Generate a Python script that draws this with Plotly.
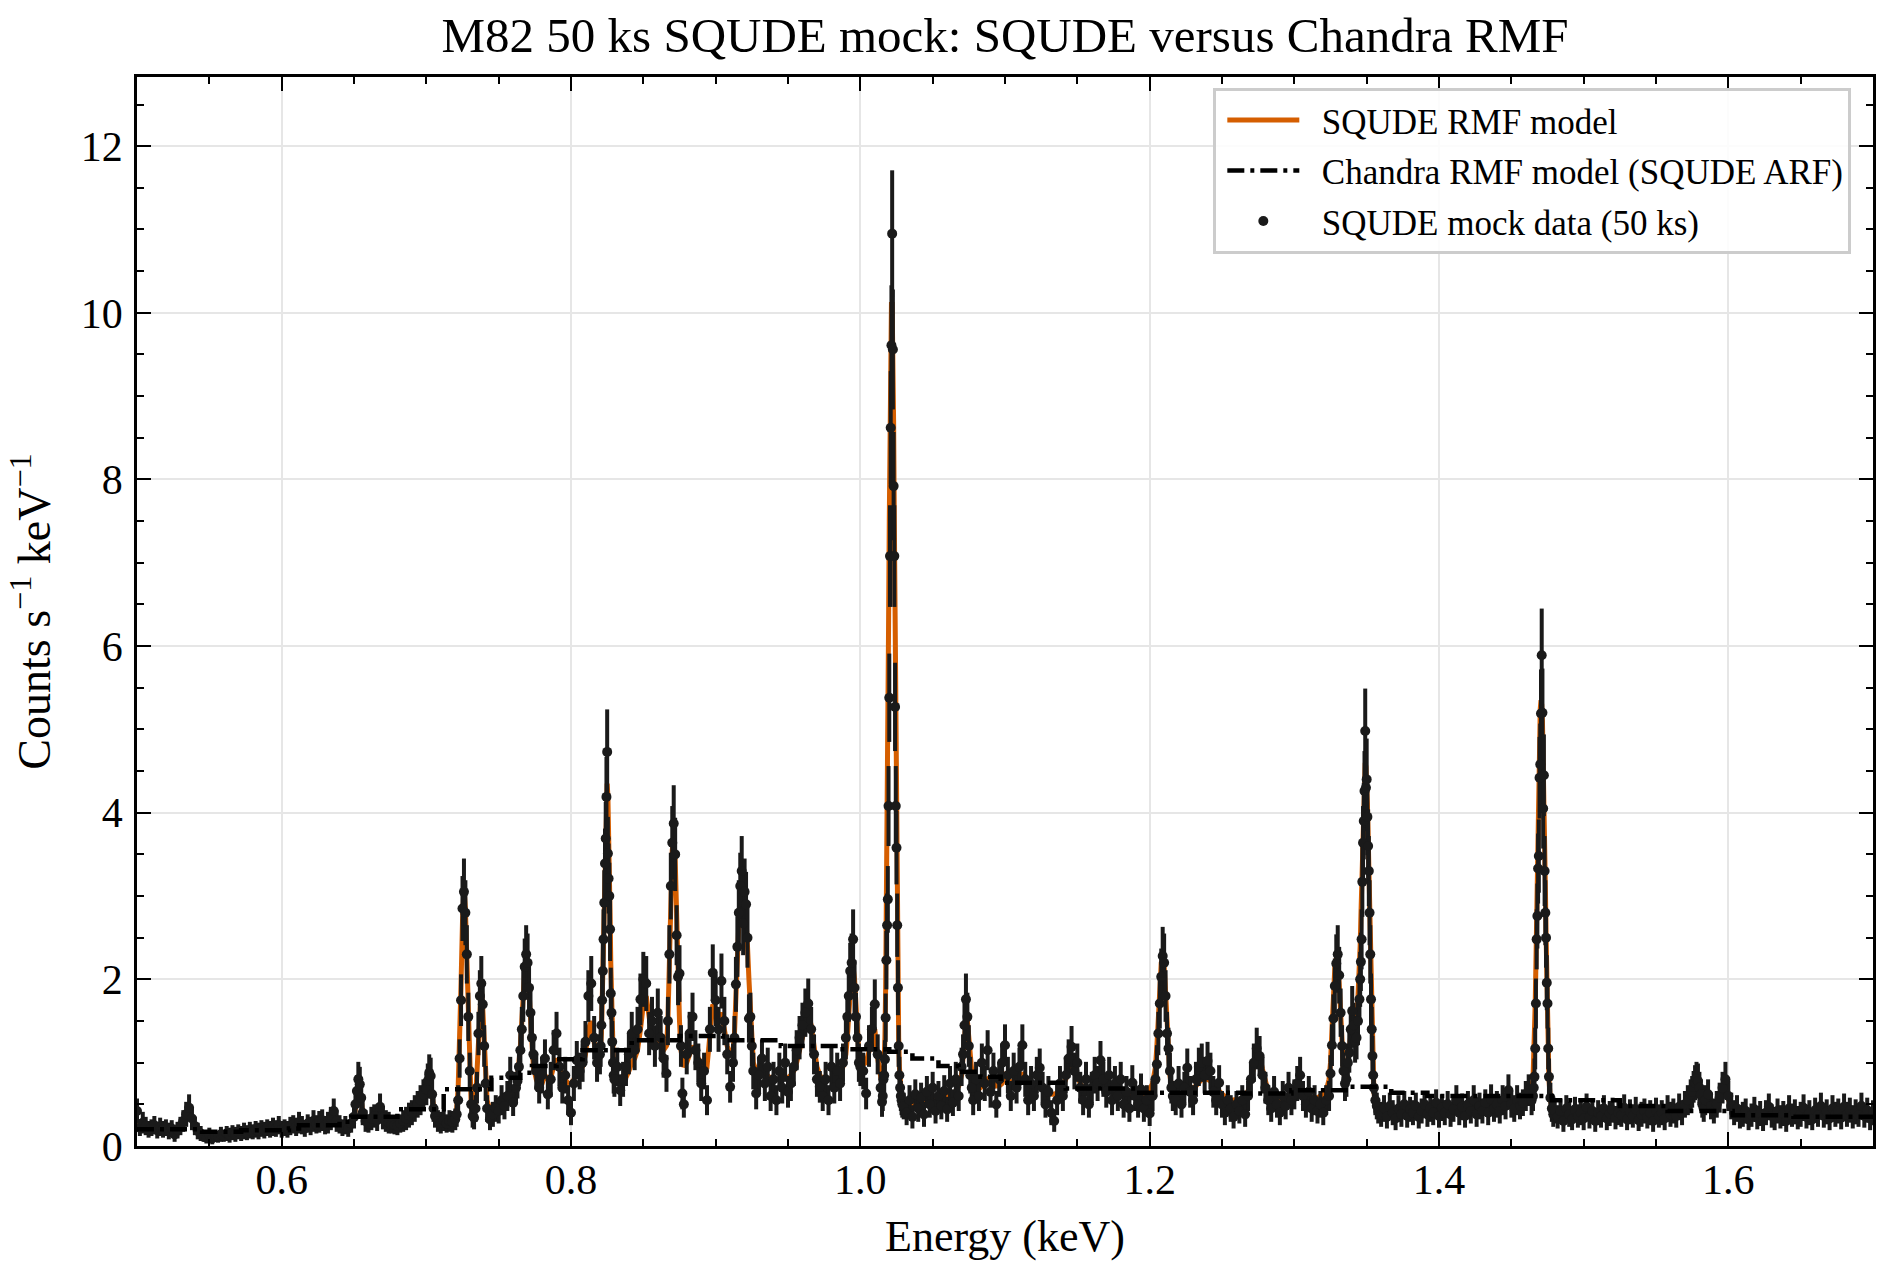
import plotly.graph_objects as go

# ---------------- data (energies in eV, rates in counts s^-1 keV^-1) ----------------
energy_ev = [
    500, 502, 504, 506, 508, 510, 512, 514, 516, 518,
    520, 522, 524, 526, 528, 530, 532, 534, 536, 538,
    540, 542, 544, 546, 548, 550, 552, 554, 556, 558,
    560, 562, 564, 566, 568, 570, 572, 574, 576, 578,
    580, 582, 584, 586, 588, 590, 592, 594, 596, 598,
    600, 602, 604, 606, 608, 610, 612, 614, 616, 618,
    620, 622, 624, 626, 628, 630, 632, 634, 636, 638,
    640, 642, 644, 646, 648,
    650, 651, 652, 653, 654, 655, 656,
    658, 660, 662, 664, 666, 668, 670, 672, 674, 676, 678, 680, 682, 684, 686, 688, 690, 692, 694, 696, 698,
    700, 701, 702, 703, 704, 705,
    706, 708, 710, 712, 714, 716, 718, 720,
    721, 722, 723, 724, 725, 726, 727, 728, 729, 730, 731, 732, 733, 734, 735, 736, 737, 738, 739, 740, 741, 742,
    744, 746, 748, 750, 752, 754, 756, 758, 760, 762,
    763, 764, 765, 766, 767, 768, 769, 770, 771, 772, 773, 774,
    776, 778, 780, 782, 784, 786, 788, 790, 792, 794, 796, 798, 800, 802, 804, 806, 808, 810, 812, 814, 816, 818,
    820, 820.5, 821, 821.5, 822, 822.5, 823, 823.5, 824, 824.5, 825, 825.5, 826, 826.5, 827, 827.5, 828, 828.5, 829, 829.5, 830,
    832, 834, 836, 838, 840, 842, 844, 846, 848, 850, 852, 854, 856, 858, 860, 862, 864,
    866, 867, 868, 869, 870, 871, 872, 873, 874, 875, 876, 877,
    878, 880, 882, 884, 886, 888, 890, 892, 894, 896, 898, 900, 902, 904, 906, 908, 910, 912,
    913, 914, 915, 916, 917, 918, 919, 920, 921, 922, 923, 924, 925, 926,
    928, 930, 932, 934, 936, 938, 940, 942, 944, 946, 948, 950, 952, 954, 956, 958, 960, 962, 964, 966,
    968, 970, 972, 974, 976, 978, 980, 982, 984, 986, 988, 990,
    991, 992, 993, 994, 995, 996, 997, 998, 999, 1000,
    1002, 1004, 1006, 1008, 1010, 1012, 1014,
    1015, 1015.5, 1016, 1016.5, 1017, 1017.5, 1018, 1018.5, 1019, 1019.5, 1020, 1020.5, 1021, 1021.5, 1022,
    1022.5, 1023, 1023.5, 1024, 1024.5, 1025, 1025.5, 1026, 1026.5, 1027, 1027.5, 1028, 1028.5, 1029,
    1030, 1032, 1034, 1036, 1038, 1040, 1042, 1044, 1046, 1048, 1050, 1052, 1054, 1056, 1058, 1060, 1062,
    1064, 1066, 1068, 1070,
    1071, 1072, 1073, 1074, 1075, 1076, 1077,
    1078, 1080, 1082, 1084, 1086, 1088, 1090, 1092, 1094, 1096,
    1098, 1100, 1102, 1104, 1106, 1108, 1110, 1112, 1114, 1116,
    1118, 1120, 1122, 1124, 1126, 1128, 1130, 1132, 1134, 1136,
    1138, 1140, 1142, 1144, 1146, 1148, 1150, 1152, 1154, 1156,
    1158, 1160, 1162, 1164, 1166, 1168, 1170, 1172, 1174, 1176,
    1178, 1180, 1182, 1184, 1186, 1188, 1190, 1192, 1194, 1196,
    1198, 1200, 1202, 1204,
    1205, 1206, 1207, 1208, 1209, 1210, 1211, 1212, 1213, 1214, 1215, 1216,
    1218, 1220, 1222, 1224, 1226, 1228, 1230, 1232, 1234, 1236,
    1238, 1240, 1242, 1244, 1246, 1248, 1250, 1252, 1254, 1256,
    1258, 1260, 1262, 1264, 1266, 1268, 1270, 1272, 1274, 1276,
    1278, 1280, 1282, 1284, 1286, 1288, 1290, 1292, 1294, 1296,
    1298, 1300, 1302, 1304, 1306, 1308, 1310, 1312, 1314, 1316,
    1318, 1320, 1322, 1324,
    1325, 1326, 1327, 1328, 1329, 1330, 1331, 1332, 1333, 1334, 1335, 1336, 1337, 1338, 1339, 1340,
    1341, 1342, 1343, 1344, 1345,
    1345.5, 1346, 1346.5, 1347, 1347.5, 1348, 1348.5, 1349, 1349.5, 1350, 1350.5, 1351, 1351.5, 1352,
    1352.5, 1353, 1353.5, 1354, 1354.5, 1355, 1356, 1357,
    1358, 1360, 1362, 1364, 1366, 1368, 1370, 1372, 1374, 1376,
    1378, 1380, 1382, 1384, 1386, 1388, 1390, 1392, 1394, 1396,
    1398, 1400, 1402, 1404, 1406, 1408, 1410, 1412, 1414, 1416,
    1418, 1420, 1422, 1424, 1426, 1428, 1430, 1432, 1434, 1436,
    1438, 1440, 1442, 1444, 1446, 1448, 1450, 1452, 1454, 1456,
    1458, 1460, 1462, 1464,
    1465, 1465.5, 1466, 1466.5, 1467, 1467.5, 1468, 1468.5, 1469, 1469.5, 1470, 1470.5, 1471, 1471.5,
    1472, 1472.5, 1473, 1473.5, 1474, 1474.5, 1475, 1475.5, 1476, 1477, 1478, 1479, 1480,
    1482, 1484, 1486, 1488, 1490, 1492, 1494, 1496, 1498, 1500,
    1502, 1504, 1506, 1508, 1510, 1512, 1514, 1516, 1518, 1520,
    1522, 1524, 1526, 1528, 1530, 1532, 1534, 1536, 1538, 1540,
    1542, 1544, 1546, 1548, 1550, 1552, 1554, 1556, 1558, 1560,
    1562, 1564, 1566, 1568, 1570, 1572, 1574,
    1575, 1576, 1577, 1578, 1579, 1580, 1581, 1582, 1583, 1584,
    1586, 1588, 1590, 1592, 1594, 1596, 1598, 1600, 1602, 1604,
    1606, 1608, 1610, 1612, 1614, 1616, 1618, 1620, 1622, 1624,
    1626, 1628, 1630, 1632, 1634, 1636, 1638, 1640, 1642, 1644,
    1646, 1648, 1650, 1652, 1654, 1656, 1658, 1660, 1662, 1664,
    1666, 1668, 1670, 1672, 1674, 1676, 1678, 1680, 1682, 1684,
    1686, 1688, 1690, 1692, 1694, 1696, 1698, 1700,
]

rate = [
    .42, .22, .28, .24, .20, .22, .25, .19, .23, .20,
    .22, .18, .21, .14, .19, .24, .30, .38, .46, .33,
    .24, .18, .15, .12, .10, .13, .09, .12, .11, .14,
    .12, .15, .13, .16, .14, .17, .15, .18, .16, .19,
    .17, .20, .18, .21, .19, .22, .20, .23, .21, .25,
    .20, .22, .20, .24, .26, .23, .28, .25, .21, .27,
    .24, .30, .26, .29, .31, .25, .28, .33, .42, .30,
    .26, .22, .25, .21, .27,
    .35, .50, .66, .80, .74, .58, .40,
    .30, .27, .33, .36, .31, .47, .34, .30, .28, .26, .25, .24, .27, .30, .33, .37, .40, .45, .50, .55, .62,
    .68, .78, .88, .84, .62, .45,
    .36, .30, .28, .31, .27, .30, .29, .32,
    .38, .55, 1.05, 1.75, 2.85, 3.05, 2.80, 2.30, 1.55, .90, .50, .36, .34, .45, .70, 1.35, 1.80, 1.95, 1.70, 1.20, .75, .45,
    .32, .38, .45, .42, .55, .48, .60, .85, .52, .70,
    .78, .95, 1.15, 1.40, 1.80, 2.15, 2.30, 2.20, 1.90, 1.60, 1.30, 1.10,
    .90, .70, .85, 1.05, .62, .80, 1.15, 1.35, .95, .70, .85, .55, .40, .75, 1.03, .90, 1.00, 1.25, 1.80, 1.95, 1.30, 1.00,
    1.10, 1.20, 1.45, 1.75, 2.10, 2.48, 2.92, 3.39, 3.69, 4.19, 4.73, 3.51, 3.21, 3.00, 2.60, 1.83, 1.60, 1.25, 1.00, .85, .80,
    .95, .67, .80, .95, 1.10, 1.35, 1.15, 1.40, 1.76, 2.00, 1.95, 1.35, 1.50, 1.20, 1.60, 1.30, 1.05,
    .87, 1.50, 2.30, 3.12, 3.64, 3.87, 3.50, 2.53, 2.03, 2.07, 1.20, .63,
    .50, 1.10, 1.35, 1.55, 1.15, 1.00, .75, .90, .55, 1.40, 2.08, 1.75, 1.40, 1.98, 1.50, 1.10, .71, 1.00,
    1.30, 1.94, 2.39, 2.80, 3.12, 3.30, 2.67, 3.05, 2.90, 2.50, 1.53, 1.55, 1.20, .90,
    .63, .85, 1.05, .75, .95, .60, .80, .55, .90, .70, 1.00, .65, .75, .95, 1.15, 1.30, 1.45, 1.60, 1.71, 1.40,
    1.10, .80, .71, .60, .80, .55, .95, .70, .90, .75, 1.00, 1.30,
    1.55, 1.80, 2.10, 2.20, 2.48, 1.90, 1.55, 1.30, 1.00, .95,
    .90, .63, 1.20, 1.40, 1.70, 1.10, .70,
    .53, .60, .80, .85, 1.04, 1.54, 2.23, 2.65, 2.96, 4.08, 5.38, 7.08, 8.62, 9.61, 10.95,
    9.56, 7.92, 7.08, 5.27, 4.08, 3.58, 2.65, 1.90, 1.20, .85, .70, .60, .55, .50,
    .48, .40, .55, .35, .62, .45, .58, .38, .65, .50, .70, .42, .60, .48, .66, .44, .75,
    .52, .80, .60, .95,
    1.10, 1.45, 1.76, 1.55, 1.20, .85, .70,
    .55, .80, .60, 1.00, .75, 1.15, .65, .90, .50, .80,
    1.00, 1.21, .85, .60, .90, .70, .95, 1.21, .80, .55,
    .75, .60, .85, .94, .70, .50, .65, .40, .30, .55,
    .75, .60, .85, 1.05, 1.19, .90, 1.00, .70, .55, .80,
    .50, .70, .85, .75, 1.03, .80, .65, .85, .55, .75,
    .60, .80, .50, .65, .45, .76, .60, .50, .68, .45,
    .55, .39, .60, .80,
    .98, 1.35, 1.71, 2.03, 2.28, 2.20, 1.80, 1.35, 1.17, .90, .70, .60,
    .55, .75, .50, .70, .94, .65, .55, .80, .95, 1.00,
    .85, 1.02, .90, .65, .55, .76, .50, .40, .55, .45,
    .35, .50, .42, .55, .38, .60, .80, 1.00, 1.17, 1.08,
    .85, .70, .55, .45, .65, .50, .40, .60, .48, .70,
    .55, .62, .75, .85, .60, .50, .65, .45, .55, .42,
    .50, .40, .55, .60,
    .87, 1.21, 1.53, 1.92, 2.19, 2.30, 2.05, 1.60, 1.20, .90, .75, .80, 1.00, 1.12, 1.40, 1.62,
    1.45, 1.25, 1.30, 1.50, 1.76,
    2.00, 2.21, 2.48, 3.17, 3.64, 3.90, 4.26, 4.98, 4.30, 4.40, 3.95, 3.60, 3.30, 2.80,
    2.30, 1.76, 1.40, 1.08, .85, .70, .55, .48,
    .42, .38, .45, .35, .48, .40, .33, .45, .38, .50,
    .36, .44, .40, .48, .35, .42, .50, .38, .45, .40,
    .52, .36, .46, .40, .50, .38, .44, .55, .40, .47,
    .36, .50, .42, .55, .38, .48, .42, .52, .40, .56,
    .45, .50, .42, .55, .48, .67, .50, .45, .55, .48,
    .52, .60, .67, .55,
    .60, .70, .83, 1.17, 1.71, 2.48, 2.76, 3.33, 3.48, 4.42, 4.58, 5.19, 5.89, 5.20,
    4.05, 4.45, 3.30, 2.80, 2.50, 1.96, 1.71, 1.17, .83, .58, .45, .38, .42,
    .35, .42, .30, .45, .38, .32, .44, .36, .40, .33,
    .47, .35, .42, .30, .40, .36, .45, .33, .39, .43,
    .34, .40, .37, .46, .32, .41, .36, .44, .31, .38,
    .42, .35, .40, .30, .43, .36, .40, .33, .45, .38,
    .42, .36, .47, .40, .50, .55, .62,
    .65, .71, .76, .80, .78, .70, .62, .50, .45, .55,
    .62, .48, .42, .50, .58, .70, .80, .60, .48, .40,
    .45, .35, .38, .42, .32, .37, .44, .34, .39, .31,
    .40, .47, .36, .33, .42, .35, .39, .30, .45, .37,
    .41, .34, .38, .46, .35, .40, .32, .43, .37, .48,
    .36, .41, .33, .45, .38, .42, .34, .47, .38, .43,
    .35, .41, .37, .48, .36, .43, .33, .40,
]

rate_err = [
    .15, .10, .13, .11, .10, .10, .11, .10, .11, .10,
    .10, .10, .10, .09, .10, .11, .13, .15, .16, .14,
    .11, .10, .09, .07, .07, .09, .07, .07, .07, .09,
    .07, .09, .09, .09, .09, .09, .09, .10, .09, .10,
    .09, .10, .10, .10, .10, .10, .10, .11, .10, .11,
    .10, .10, .10, .11, .11, .11, .13, .11, .10, .11,
    .11, .13, .11, .13, .13, .11, .13, .14, .15, .13,
    .11, .10, .11, .10, .11,
    .14, .16, .19, .21, .21, .18, .15,
    .13, .11, .14, .14, .13, .16, .14, .13, .13, .11, .11, .11, .11, .13, .14, .15, .15, .16, .16, .18, .18,
    .19, .21, .22, .22, .18, .16,
    .14, .13, .13, .13, .11, .13, .13, .13,
    .15, .18, .23, .31, .39, .40, .39, .35, .29, .22, .16, .14, .14, .16, .19, .26, .31, .33, .30, .25, .21, .16,
    .13, .15, .16, .15, .18, .16, .18, .22, .16, .19,
    .21, .23, .24, .27, .31, .34, .35, .35, .33, .29, .26, .24,
    .22, .19, .22, .23, .18, .21, .24, .26, .23, .19, .22, .18, .15, .21, .23, .22, .23, .25, .31, .33, .26, .23,
    .24, .25, .27, .31, .34, .36, .39, .42, .44, .48, .51, .44, .42, .40, .38, .31, .29, .25, .23, .22, .21,
    .23, .19, .21, .23, .24, .26, .24, .27, .31, .33, .33, .26, .29, .25, .29, .26, .23,
    .22, .29, .35, .40, .44, .46, .44, .36, .34, .34, .25, .19,
    .16, .24, .26, .29, .24, .23, .21, .22, .18, .27, .34, .31, .27, .33, .29, .24, .19, .23,
    .26, .33, .36, .39, .40, .42, .38, .40, .39, .36, .29, .29, .25, .22,
    .19, .22, .23, .21, .23, .18, .21, .18, .22, .19, .23, .19, .21, .23, .24, .26, .27, .29, .30, .27,
    .24, .21, .19, .18, .21, .18, .23, .19, .22, .21, .23, .26,
    .29, .31, .34, .35, .36, .33, .29, .26, .23, .23,
    .22, .19, .25, .27, .30, .24, .19,
    .18, .18, .21, .22, .23, .29, .35, .38, .40, .48, .53, .61, .68, .72, .76,
    .72, .65, .61, .53, .48, .44, .38, .33, .25, .22, .19, .18, .18, .16,
    .16, .15, .18, .14, .18, .16, .18, .15, .19, .16, .19, .15, .18, .16, .19, .15, .21,
    .16, .21, .18, .23,
    .24, .27, .31, .29, .25, .22, .19,
    .18, .21, .18, .23, .21, .24, .19, .22, .16, .21,
    .23, .25, .22, .18, .22, .19, .23, .25, .21, .18,
    .21, .18, .22, .23, .19, .16, .19, .15, .13, .18,
    .21, .18, .22, .23, .25, .22, .23, .19, .18, .21,
    .16, .19, .22, .21, .23, .21, .19, .22, .18, .21,
    .18, .21, .16, .19, .16, .21, .18, .16, .19, .16,
    .18, .15, .18, .21,
    .23, .26, .30, .34, .35, .35, .31, .26, .25, .22, .19, .18,
    .18, .21, .16, .19, .23, .19, .18, .21, .23, .23,
    .22, .23, .22, .19, .18, .21, .16, .15, .18, .16,
    .14, .16, .15, .18, .15, .18, .21, .23, .25, .24,
    .22, .19, .18, .16, .19, .16, .15, .18, .16, .19,
    .18, .18, .21, .22, .18, .16, .19, .16, .18, .15,
    .16, .15, .18, .18,
    .22, .25, .29, .33, .35, .35, .34, .29, .25, .22, .21, .21, .23, .24, .27, .30,
    .27, .25, .26, .29, .31,
    .33, .35, .36, .42, .44, .46, .48, .51, .48, .49, .46, .44, .42, .39,
    .35, .31, .27, .24, .22, .19, .18, .16,
    .15, .15, .16, .14, .16, .15, .14, .16, .15, .16,
    .14, .15, .15, .16, .14, .15, .16, .15, .16, .15,
    .16, .14, .16, .15, .16, .15, .15, .18, .15, .16,
    .14, .16, .15, .18, .15, .16, .15, .16, .15, .18,
    .16, .16, .15, .18, .16, .19, .16, .16, .18, .16,
    .16, .18, .19, .18,
    .18, .19, .22, .25, .30, .36, .39, .42, .44, .49, .49, .53, .56, .53,
    .48, .49, .42, .39, .36, .33, .30, .25, .22, .18, .16, .15, .15,
    .14, .15, .13, .16, .15, .13, .15, .14, .15, .14,
    .16, .14, .15, .13, .15, .14, .16, .14, .15, .15,
    .14, .15, .14, .16, .13, .15, .14, .15, .13, .15,
    .15, .14, .15, .13, .15, .14, .15, .14, .16, .15,
    .15, .14, .16, .15, .16, .18, .18,
    .19, .19, .21, .21, .21, .19, .18, .16, .16, .18,
    .18, .16, .15, .16, .18, .19, .21, .18, .16, .15,
    .16, .14, .15, .15, .13, .14, .15, .14, .15, .13,
    .15, .16, .14, .14, .15, .14, .15, .13, .16, .14,
    .15, .14, .15, .16, .14, .15, .13, .15, .14, .16,
    .14, .15, .14, .16, .15, .15, .14, .16, .15, .15,
    .14, .15, .14, .16, .14, .15, .14, .15,
]

model_squde = [
    .27, .25, .24, .24, .23, .23, .22, .22, .22, .21,
    .21, .21, .21, .21, .22, .24, .28, .34, .36, .32,
    .25, .20, .16, .14, .13, .12, .12, .12, .13, .13,
    .13, .14, .14, .14, .15, .15, .16, .16, .16, .17,
    .17, .18, .18, .18, .19, .19, .20, .20, .21, .21,
    .21, .22, .22, .23, .23, .24, .25, .25, .25, .26,
    .26, .27, .27, .28, .29, .29, .30, .32, .33, .30,
    .27, .26, .25, .25, .27,
    .33, .45, .62, .74, .70, .55, .40,
    .32, .30, .31, .33, .34, .38, .35, .31, .29, .28, .28, .28, .29, .30, .32, .35, .38, .42, .47, .52, .58,
    .64, .72, .76, .72, .58, .44,
    .36, .32, .31, .31, .31, .32, .33, .36,
    .45, .70, 1.20, 1.95, 2.70, 3.10, 2.85, 2.20, 1.45, .85, .50, .38, .40, .55, .90, 1.40, 1.80, 1.90, 1.65, 1.20, .80, .55,
    .42, .40, .42, .45, .48, .50, .55, .62, .60, .70,
    .80, .95, 1.20, 1.50, 1.85, 2.10, 2.20, 2.10, 1.85, 1.50, 1.20, .95,
    .80, .72, .75, .85, .80, .82, .95, 1.05, .95, .85, .80, .75, .75, .80, .88, .92, .95, 1.10, 1.40, 1.50, 1.20, 1.00,
    1.05, 1.15, 1.35, 1.70, 2.20, 2.70, 3.20, 3.65, 4.05, 4.30, 4.35, 4.20, 3.90, 3.40, 2.80, 2.20, 1.70, 1.30, 1.00, .85, .75,
    .75, .75, .78, .82, .90, 1.00, 1.05, 1.15, 1.40, 1.70, 1.80, 1.50, 1.30, 1.20, 1.25, 1.20, 1.15,
    1.20, 1.50, 2.20, 3.00, 3.55, 3.70, 3.45, 2.80, 2.00, 1.50, 1.15, 1.00,
    .95, 1.00, 1.10, 1.20, 1.15, 1.05, 1.00, .95, .95, 1.30, 1.70, 1.65, 1.50, 1.60, 1.40, 1.20, 1.10, 1.15,
    1.35, 1.75, 2.30, 2.80, 3.10, 3.20, 3.15, 3.00, 2.75, 2.40, 2.00, 1.60, 1.25, 1.00,
    .90, .88, .86, .85, .84, .82, .82, .80, .80, .80, .82, .82, .85, .90, 1.00, 1.15, 1.35, 1.50, 1.60, 1.45,
    1.20, .95, .85, .80, .80, .80, .82, .82, .85, .88, .95, 1.10,
    1.30, 1.60, 1.90, 2.10, 2.15, 2.00, 1.70, 1.35, 1.10, 1.00,
    .98, 1.00, 1.15, 1.30, 1.40, 1.05, .80,
    .70, .68, .75, .95, 1.30, 1.90, 2.70, 3.70, 4.90, 6.20, 7.50, 8.70, 9.60, 10.10, 10.10,
    9.60, 8.70, 7.50, 6.20, 4.90, 3.70, 2.70, 1.90, 1.30, .95, .75, .65, .60, .58,
    .55, .52, .52, .50, .52, .52, .54, .55, .56, .58, .60, .58, .58, .57, .58, .58, .62,
    .62, .66, .72, .85,
    1.10, 1.35, 1.50, 1.50, 1.30, 1.00, .80,
    .70, .68, .68, .72, .75, .80, .78, .75, .72, .72,
    .75, .85, .82, .76, .75, .76, .80, .88, .82, .75,
    .72, .70, .72, .75, .72, .68, .65, .62, .62, .64,
    .68, .72, .80, .95, 1.05, .95, .85, .75, .70, .68,
    .68, .70, .75, .78, .80, .78, .75, .72, .70, .70,
    .68, .66, .64, .62, .62, .64, .64, .62, .62, .62,
    .65, .68, .75, .95,
    1.20, 1.55, 1.95, 2.20, 2.25, 2.15, 1.85, 1.45, 1.10, .85, .72, .66,
    .62, .62, .62, .64, .68, .70, .70, .72, .76, .80,
    .80, .80, .78, .72, .68, .66, .62, .58, .56, .55,
    .55, .55, .56, .58, .60, .66, .78, .95, 1.08, 1.08,
    .92, .75, .65, .60, .58, .58, .57, .57, .57, .58,
    .60, .62, .65, .68, .65, .62, .60, .58, .58, .58,
    .60, .62, .66, .80,
    1.00, 1.40, 1.85, 2.15, 2.25, 2.20, 1.95, 1.55, 1.15, .90, .80, .85, 1.00, 1.20, 1.40, 1.50,
    1.45, 1.35, 1.40, 1.70, 2.10,
    2.40, 2.75, 3.10, 3.50, 3.90, 4.25, 4.50, 4.60, 4.55, 4.40, 4.10, 3.75, 3.30, 2.80,
    2.30, 1.80, 1.40, 1.05, .80, .65, .52, .46,
    .45, .44, .43, .43, .42, .42, .42, .42, .42, .42,
    .42, .42, .42, .42, .42, .42, .43, .43, .43, .43,
    .44, .44, .44, .44, .44, .44, .44, .45, .45, .45,
    .45, .46, .46, .47, .47, .47, .48, .48, .48, .49,
    .50, .50, .51, .52, .53, .55, .54, .53, .53, .53,
    .54, .56, .60, .70,
    .80, 1.00, 1.30, 1.70, 2.20, 2.80, 3.40, 4.00, 4.55, 5.00, 5.25, 5.35, 5.30, 5.10,
    4.75, 4.30, 3.75, 3.15, 2.55, 2.00, 1.50, 1.10, .80, .55, .45, .40, .38,
    .38, .38, .37, .37, .37, .37, .37, .37, .37, .37,
    .37, .37, .37, .37, .37, .37, .37, .37, .37, .37,
    .37, .37, .37, .37, .37, .37, .37, .37, .37, .37,
    .37, .37, .37, .37, .37, .38, .38, .38, .39, .39,
    .40, .41, .42, .44, .48, .55, .62,
    .68, .74, .80, .84, .82, .74, .62, .52, .46, .44,
    .44, .45, .46, .50, .56, .62, .64, .56, .48, .42,
    .40, .38, .37, .37, .36, .36, .36, .36, .36, .36,
    .36, .37, .37, .36, .36, .36, .36, .36, .36, .36,
    .36, .36, .36, .37, .37, .37, .37, .37, .37, .38,
    .37, .37, .37, .37, .37, .37, .37, .38, .38, .38,
    .38, .38, .38, .39, .38, .38, .38, .38,
]

# Chandra-RMF folded model: step values on the Chandra channel grid
chandra_ev = [500, 545, 572, 605, 612, 640, 648, 680, 712, 745, 765, 773, 790, 808, 842, 875, 905, 945,
              985, 1020, 1036, 1054, 1068, 1083, 1097, 1142, 1190, 1265, 1298, 1338, 1367, 1392, 1478,
              1525, 1558, 1603, 1645, 1700]
chandra_model = [0.20, 0.17, 0.19, 0.21, 0.25, 0.29, 0.35, 0.44, 0.68, 0.82, 0.88, 0.96, 1.04, 1.15, 1.27,
                 1.32, 1.27, 1.20, 1.16, 1.13, 1.05, 0.96, 0.89, 0.83, 0.76, 0.69, 0.64, 0.63, 0.67,
                 0.71, 0.64, 0.60, 0.55, 0.48, 0.42, 0.37, 0.35, 0.35]

x_ticks = [0.6, 0.8, 1.0, 1.2, 1.4, 1.6]
x_tick_labels = ["0.6", "0.8", "1.0", "1.2", "1.4", "1.6"]
y_ticks = [0, 2, 4, 6, 8, 10, 12]
y_tick_labels = ["0", "2", "4", "6", "8", "10", "12"]

n = len(energy_ev)
for name, arr in [("rate", rate), ("rate_err", rate_err), ("model_squde", model_squde)]:
    if len(arr) != n:
        raise ValueError(f"{name} has {len(arr)} values, expected {n}")
if len(chandra_ev) != len(chandra_model):
    raise ValueError("chandra arrays differ in length")

energy_kev = [e / 1000 for e in energy_ev]
chandra_kev = [e / 1000 for e in chandra_ev]

FONT = "Liberation Serif, Times New Roman, Times, serif"
INK = "#1a1a1a"
ORANGE = "#d55e00"
GAP = "\u00a0\u00a0"

fig = go.Figure()
fig.add_trace(go.Scatter(
    x=energy_kev, y=model_squde, mode="lines", name=GAP + "SQUDE RMF model",
    line=dict(color=ORANGE, width=5), legendrank=1, legendgroup="g1",
))
fig.add_trace(go.Scatter(
    x=energy_kev, y=rate, mode="markers", name=GAP + "SQUDE mock data (50 ks)",
    marker=dict(color=INK, size=10),
    error_y=dict(type="data", array=rate_err, visible=True, color=INK, thickness=4, width=0),
    legendrank=3, legendgroup="g3",
))
fig.add_trace(go.Scatter(
    x=chandra_kev, y=chandra_model, mode="lines", name=GAP + "Chandra RMF model (SQUDE ARF)",
    line=dict(color="black", width=4.5, dash="17px,6px,4px,6px", shape="hv"),
    legendrank=2, legendgroup="g2",
))

axis_common = dict(
    showline=True, linecolor="black", linewidth=2.5, mirror="ticks",
    ticks="inside", ticklen=14, tickwidth=2, tickcolor="black",
    showgrid=True, gridcolor="#e6e6e6", gridwidth=1.5, zeroline=False,
    tickfont=dict(family=FONT, size=42, color="black"),
)

fig.update_xaxes(
    range=[0.5, 1.7], tickmode="array", tickvals=x_ticks, ticktext=x_tick_labels,
    ticklabelstandoff=-5,
    minor=dict(tickmode="linear", tick0=0.5, dtick=0.05, ticklen=7, tickwidth=2,
               tickcolor="black", ticks="inside", showgrid=False),
    title=dict(text="Energy (keV)", font=dict(family=FONT, size=44, color="black"), standoff=19),
    **axis_common,
)
fig.update_yaxes(
    range=[0, 12.83], tickmode="array", tickvals=y_ticks, ticktext=y_tick_labels,
    ticklabelstandoff=3,
    minor=dict(tickmode="linear", tick0=0, dtick=0.5, ticklen=7, tickwidth=2,
               tickcolor="black", ticks="inside", showgrid=False),
    title=dict(text="Counts s<sup>−1</sup> keV<sup>−1</sup>",
               font=dict(family=FONT, size=46, color="black"), standoff=16),
    **axis_common,
)

fig.update_layout(
    width=1889, height=1278,
    margin=dict(l=137, r=16, t=77, b=132),
    paper_bgcolor="white", plot_bgcolor="white",
    font=dict(family=FONT, color="black", size=42),
    title=dict(text="M82 50 ks SQUDE mock: SQUDE versus Chandra RMF",
               x=0.5, xref="paper", xanchor="center",
               y=1 - 35 / 1278, yref="container", yanchor="middle",
               font=dict(family=FONT, size=49, color="black")),
    showlegend=True,
    legend=dict(x=0.62, y=0.99, xanchor="left", yanchor="top",
                bgcolor="rgba(255,255,255,0.85)", bordercolor="#cccccc", borderwidth=3,
                font=dict(family=FONT, size=35, color="black"),
                itemwidth=72, tracegroupgap=2, indentation=6),
)

fig.write_html("out.html")
